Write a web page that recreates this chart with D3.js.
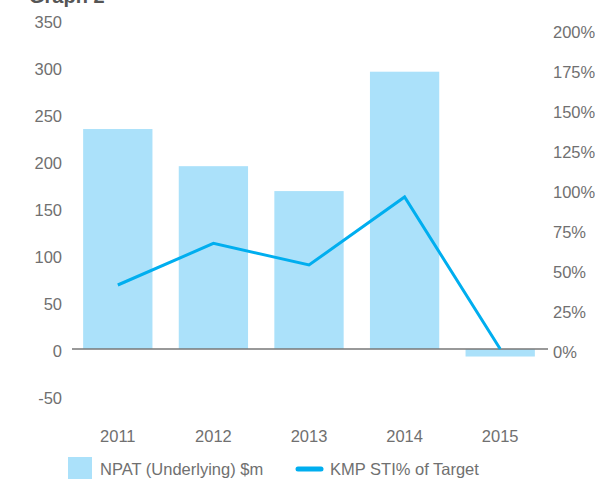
<!DOCTYPE html>
<html>
<head>
<meta charset="utf-8">
<script src="https://cdn.jsdelivr.net/npm/d3@7"></script>
<style>
  html, body { margin: 0; padding: 0; background: #fff; }
  svg text { font-family: "Liberation Sans", Arial, sans-serif; }
</style>
</head>
<body>
<svg id="chart" width="595" height="479"></svg>
<script>
const years = ['2011', '2012', '2013', '2014', '2015'];
const npat = [234, 194.5, 168, 295, -8];
const stiPct = [40, 66, 52.5, 95, 0];
const leftTicks = [-50, 0, 50, 100, 150, 200, 250, 300, 350];
const rightTicks = [0, 25, 50, 75, 100, 125, 150, 175, 200];

const barColor = '#abe1fa';
const lineColor = '#00aeef';
const textColor = '#707070';

const svg = d3.select('#chart');

// scales
const x = d3.scaleBand()
  .domain(years)
  .range([70, 548])
  .paddingInner(0.275)
  .paddingOuter(0.1375);
const yLeft = d3.scaleLinear().domain([0, 350]).range([349, 20]);
const yRight = d3.scaleLinear().domain([0, 200]).range([349, 29]);

// title, mostly cut off at the top
svg.append('text')
  .attr('x', 29)
  .attr('y', 3)
  .attr('font-size', 20)
  .attr('font-weight', 'bold')
  .attr('fill', '#555')
  .text('Graph 2');

// left axis labels (plain hyphen for negatives)
svg.append('g')
  .attr('transform', 'translate(62,2)')
  .call(d3.axisLeft(yLeft).tickValues(leftTicks).tickSize(0).tickPadding(0)
    .tickFormat(d => String(d)))
  .call(g => g.select('.domain').remove())
  .selectAll('text')
  .attr('fill', textColor)
  .attr('font-size', 16.5);

// right axis labels
svg.append('g')
  .attr('transform', 'translate(553,3)')
  .call(d3.axisRight(yRight).tickValues(rightTicks).tickSize(0).tickPadding(0)
    .tickFormat(d => d + '%'))
  .call(g => g.select('.domain').remove())
  .selectAll('text')
  .attr('fill', textColor)
  .attr('font-size', 16.5);

// bars
svg.append('g')
  .selectAll('rect')
  .data(years)
  .join('rect')
  .attr('x', d => x(d))
  .attr('width', x.bandwidth())
  .attr('y', (d, i) => Math.min(yLeft(npat[i]), yLeft(0)))
  .attr('height', (d, i) => Math.abs(yLeft(npat[i]) - yLeft(0)))
  .attr('fill', barColor);

// zero line
svg.append('line')
  .attr('x1', 72)
  .attr('x2', 548)
  .attr('y1', yLeft(0))
  .attr('y2', yLeft(0))
  .attr('stroke', '#777')
  .attr('stroke-width', 1.5);

// STI line
const line = d3.line()
  .x((d, i) => x(years[i]) + x.bandwidth() / 2)
  .y(d => yRight(d));

svg.append('path')
  .datum(stiPct)
  .attr('d', line)
  .attr('fill', 'none')
  .attr('stroke', lineColor)
  .attr('stroke-width', 3);

// x axis labels
svg.append('g')
  .attr('transform', 'translate(0,430)')
  .call(d3.axisBottom(x).tickSize(0).tickPadding(0))
  .call(g => g.select('.domain').remove())
  .selectAll('text')
  .attr('fill', textColor)
  .attr('font-size', 16.5);

// legend
const legend = svg.append('g');
legend.append('rect')
  .attr('x', 68)
  .attr('y', 457)
  .attr('width', 24)
  .attr('height', 24)
  .attr('fill', barColor);
legend.append('text')
  .attr('x', 100)
  .attr('y', 475)
  .attr('font-size', 16.5)
  .attr('fill', textColor)
  .text('NPAT (Underlying) $m');
legend.append('line')
  .attr('x1', 298)
  .attr('x2', 321)
  .attr('y1', 469)
  .attr('y2', 469)
  .attr('stroke', lineColor)
  .attr('stroke-width', 5)
  .attr('stroke-linecap', 'round');
legend.append('text')
  .attr('x', 330)
  .attr('y', 475)
  .attr('font-size', 16.5)
  .attr('fill', textColor)
  .text('KMP STI% of Target');
</script>
</body>
</html>
